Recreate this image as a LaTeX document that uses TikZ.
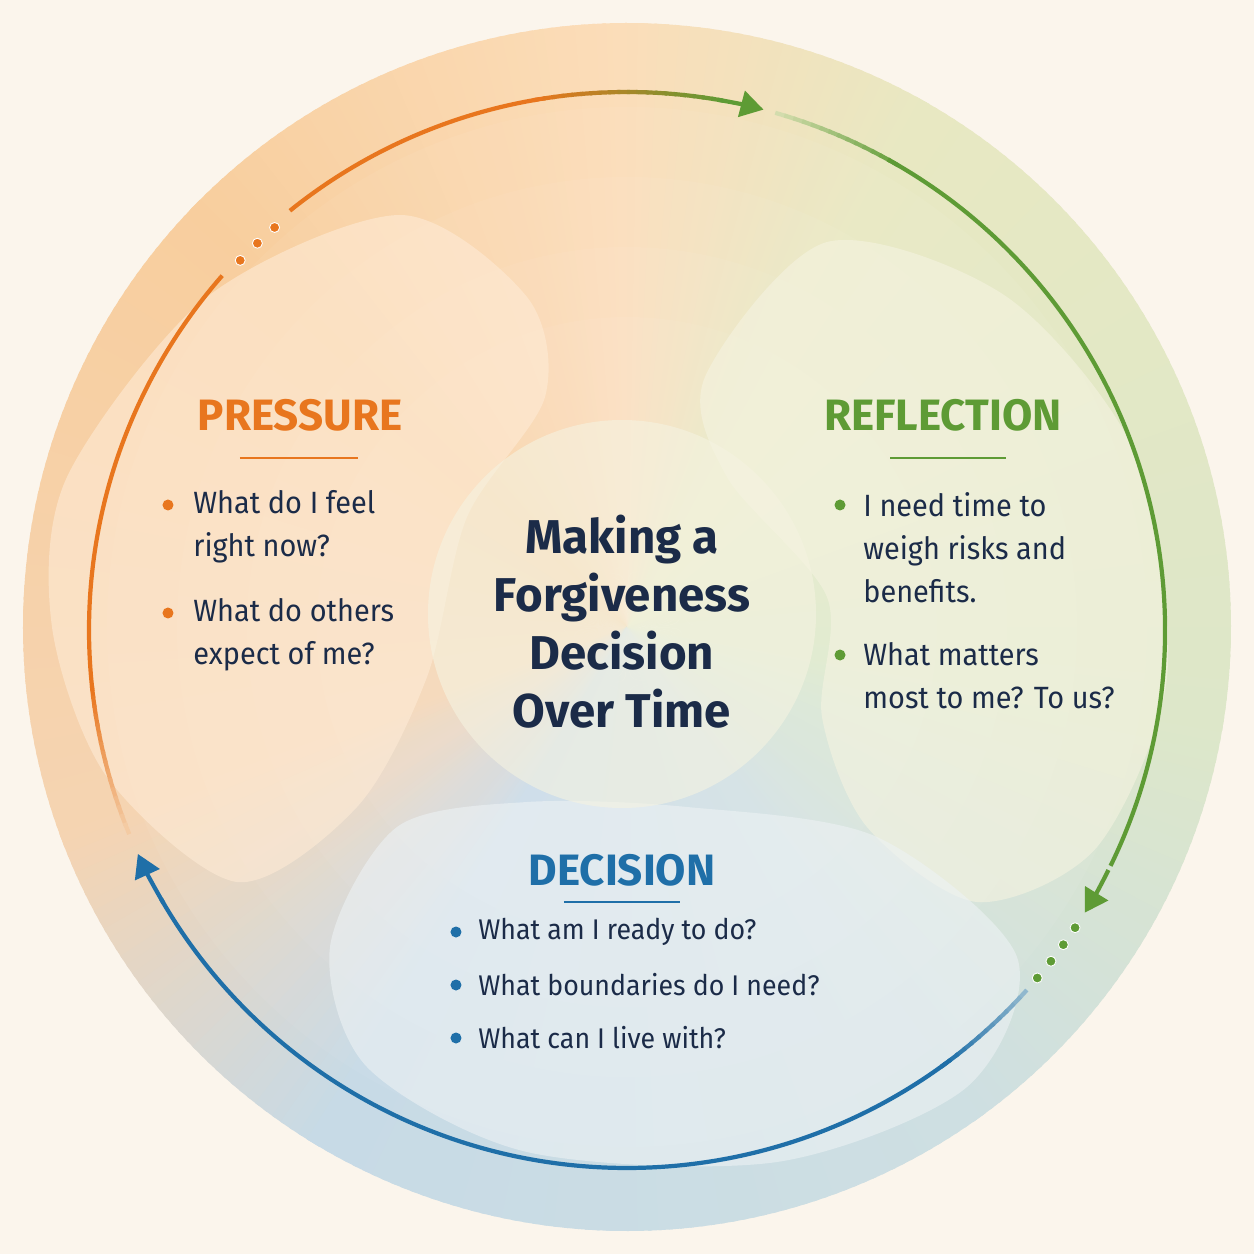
\documentclass[tikz,border=0pt]{standalone}
\usepackage{fontspec}
\setmainfont{Fira Sans}
\newfontfamily\itemfont{Fira Sans}[FakeStretch=0.94]
\usetikzlibrary{arrows.meta}

\definecolor{paper}{HTML}{FBF5EC}
\definecolor{ctop}{HTML}{FBDDB9}
\definecolor{cleft}{HTML}{F8CE9E}
\definecolor{cleftlow}{HTML}{F5D4B2}
\definecolor{cbot}{HTML}{C7DAE6}
\definecolor{cbotright}{HTML}{CEDFE2}
\definecolor{cright}{HTML}{DDE7C9}
\definecolor{cupright}{HTML}{E8E8C2}
\definecolor{blobpeach}{HTML}{FEEBD6}
\definecolor{blobcream}{HTML}{F5F3E1}
\definecolor{blobmist}{HTML}{EDF2F4}
\definecolor{presorange}{HTML}{E8761E}
\definecolor{reflgreen}{HTML}{5E9B35}
\definecolor{decblue}{HTML}{1F6FA8}
\definecolor{inknavy}{HTML}{1B2B48}

\tikzset{
  heading/.style={font=\fontsize{25}{28}\selectfont\bfseries, inner sep=0pt},
  item/.style={font=\itemfont\fontsize{17.5}{24.4}\selectfont, text=inknavy, anchor=west, align=left, inner sep=0pt},
  smallitem/.style={item, font=\itemfont\fontsize{16.2}{20}\selectfont},
  cyclearc/.style={line width=2.4pt, line cap=butt},
  blob/.style={fill opacity=0.6, draw=none},
  tip/.style={-{Triangle[length=13pt,width=15pt]}}
}

\begin{document}
\begin{tikzpicture}[x=0.02cm,y=0.02cm]

\useasboundingbox (-627,-627) rectangle (627,627);
\fill [paper] (-627,-627) rectangle (627,627);

% the big disk, coloured by angle
\foreach \a/\b/\ca/\cb in {90/135/ctop/cleft, 135/200/cleft/cleftlow, 200/238/cleftlow/cbot,
        238/305/cbot/cbotright, 305/350/cbotright/cright, 350/420/cright/cupright, 420/450/cupright/ctop} {
    \foreach \t in {\a,...,\b} {
        \pgfmathtruncatemacro\p{100*(\t-\a)/(\b-\a)}
        \fill [\cb!\p!\ca] (0,0) -- (\t:604) arc (\t:\t+1.4:604) -- cycle;
    }
}
\foreach \r in {520,450,380,310}
    \fill [white, fill opacity=0.05] (0,0) circle (\r);

% soft blobs behind the texts
\draw [blob, fill=blobpeach] plot [smooth cycle] coordinates {(-560,150) (-420,330) (-227,412) (-100,330) (-82,230) (-160,110) (-200,-50) (-270,-180) (-390,-255) (-520,-150) (-575,0)};
\draw [blob, fill=blobcream] plot [smooth cycle] coordinates {(78,250) (200,385) (380,330) (510,170) (540,-50) (470,-220) (350,-275) (240,-200) (195,-90) (200,30) (100,150)};
\draw [blob, fill=blobmist] plot [smooth cycle] coordinates {(-297,-320) (-230,-200) (-100,-175) (60,-180) (250,-210) (390,-330) (340,-460) (150,-535) (-100,-525) (-260,-440)};

% centre disk
\fill [blobcream, fill opacity=0.6] (-5,13) circle (194);

\begin{scope}[shift={(0,-3)}]

% pressure -> reflection
\draw [cyclearc, presorange] (128.8:538) arc (128.8:99.5:538);
\foreach \i in {0,...,19} {
    \pgfmathsetmacro\p{5*\i}
    \draw [cyclearc, color=reflgreen!\p!presorange] (100-\i:538) arc (100-\i:98.7-\i:538);
}
\draw [cyclearc, reflgreen, tip] (80.3:538) arc (80.3:75.3:538);

\foreach \a in {131.2,133.7,136.3}
    \fill [presorange, draw=white, line width=0.5pt] (\a:535) circle (5);

% left side, fading out
\draw [cyclearc, presorange] (138.8:538) arc (138.8:186.5:538);
\foreach \i in {0,...,15} {
    \pgfmathsetmacro\p{100-6*\i}
    \draw [cyclearc, color=presorange!\p!cleftlow] (186+\i:538) arc (186+\i:187.3+\i:538);
}

% reflection -> decision
\foreach \i in {0,...,13} {
    \pgfmathsetmacro\p{15+6*\i}
    \draw [cyclearc, color=reflgreen!\p!cupright] (74-\i:538) arc (74-\i:72.7-\i:538);
}
\draw [cyclearc, reflgreen] (61:538) arc (61:-26:538);
\draw [cyclearc, reflgreen, tip] (-26.5:538) arc (-26.5:-31.7:538);

\foreach \a in {-33.6,-35.8,-38,-40.3}
    \fill [reflgreen, draw=white, line width=0.5pt] (\a:538) circle (5);

% decision -> pressure
\foreach \i in {0,...,11} {
    \pgfmathsetmacro\p{35+6*\i}
    \draw [cyclearc, color=decblue!\p!cbotright] (-42-\i:538) arc (-42-\i:-43.3-\i:538);
}
\draw [cyclearc, decblue] (-53.5:538) arc (-53.5:-150:538);
\draw [cyclearc, decblue, tip] (-149.5:538) arc (-149.5:-155.4:538);

\end{scope}

% centre title
\node [font=\fontsize{27}{33}\selectfont\bfseries, text=inknavy, align=center] (title) at (-5,5)
    {Making a\\Forgiveness\\Decision\\Over Time};

% pressure
\node [heading, text=presorange] (pressure) at (-327,212) {PRESSURE};
\draw [presorange, line width=1.6pt] (-387,169) -- (-269,169);
\foreach \y in {122,14}
    \fill [presorange] (-459,\y) circle (5.5);
\node [item] (pfeel) at (-434,100.5) {What do I feel\\right now?};
\node [item] (pothers) at (-434,-7.5) {What do others\\expect of me?};

% reflection
\node [heading, text=reflgreen] (reflection) at (316,212) {REFLECTION};
\draw [reflgreen, line width=1.6pt] (263,169) -- (379,169);
\foreach \y in {122,-28}
    \fill [reflgreen] (213,\y) circle (5.5);
\node [item] (rtime) at (236,79) {I need time to\\weigh risks and\\benefits.};
\node [item] (rmatters) at (236,-49) {What matters\\most to me? To us?};

% decision
\node [heading, text=decblue] (decision) at (-5,-243) {DECISION};
\draw [decblue, line width=1.6pt] (-63,-275) -- (53,-275);
\foreach \y in {-305,-358,-411}
    \fill [decblue] (-171,\y) circle (5.5);
\node [smallitem] (dready) at (-149,-305) {What am I ready to do?};
\node [smallitem] (dbounds) at (-149,-358) {What boundaries do I need?};
\node [smallitem] (dlive) at (-149,-411) {What can I live with?};

\end{tikzpicture}
\end{document}
